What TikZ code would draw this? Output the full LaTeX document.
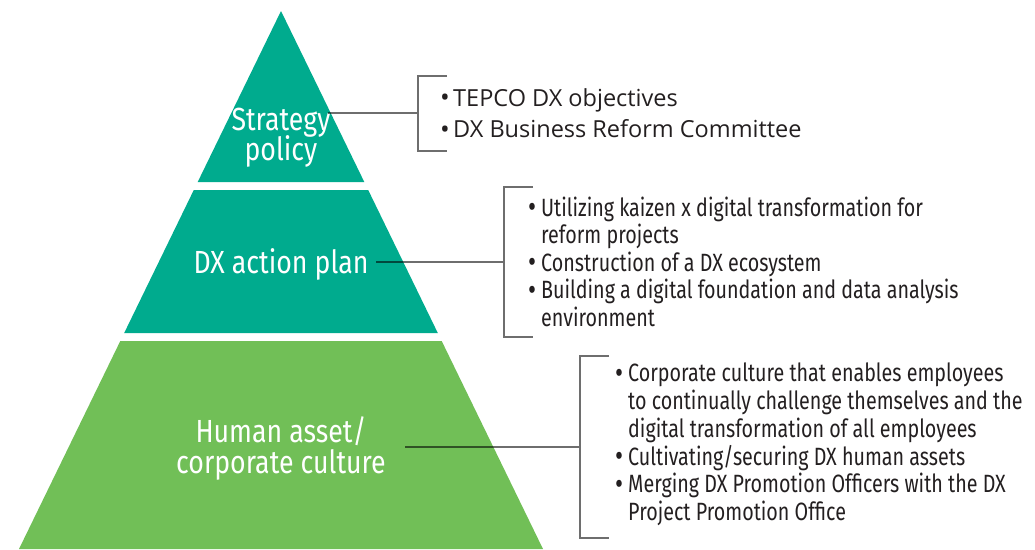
\documentclass[tikz,border=0pt]{standalone}
\usepackage{fontspec}
\setmainfont{Fira Sans}
\newfontfamily\condfont[FakeStretch=0.788]{Fira Sans}
\newfontfamily\labelfont[FakeStretch=0.835]{Fira Sans}
\newfontfamily\widefont{Open Sans}
\definecolor{teal1}{HTML}{00AB8E}
\definecolor{green1}{HTML}{71BF57}
\definecolor{linegray}{HTML}{6E6E6E}
\definecolor{txtcol}{HTML}{231F20}
\tikzset{
  layerlabel/.style={anchor=base, inner sep=0pt, text=white, font=\labelfont\fontsize{32}{32}\selectfont},
  itemtxt/.style={anchor=base west, inner sep=0pt, text=txtcol, font=\condfont\fontsize{25}{25}\selectfont},
  toptxt/.style={anchor=base west, inner sep=0pt, text=txtcol, font=\widefont\fontsize{23.5}{23.5}\selectfont},
  connector/.style={draw=linegray, line width=1.4pt},
}
\newcommand{\bul}{\makebox[13pt][l]{\smash{\raisebox{-0.15ex}{\scalebox{1.25}{\textbullet}}}}}
\newcommand{\bulw}{\makebox[13pt][l]{\smash{\raisebox{-0.05ex}{\scalebox{1.1}{\textbullet}}}}}
\begin{document}
\begin{tikzpicture}[x=1pt,y=-1pt]
\useasboundingbox (0,0) rectangle (1035,549);
% pyramid layers
\fill[teal1] (281,11) -- (364.3,182) -- (197.7,182) -- cycle;
\fill[teal1] (193.8,190) -- (368.2,190) -- (437.8,333) -- (124.2,333) -- cycle;
\fill[green1] (120.3,341) -- (441.7,341) -- (543,549) -- (19,549) -- cycle;
% layer labels
\node[layerlabel] (l1a) at (281,130) {Strategy};
\node[layerlabel] (l1b) at (281,160) {policy};
\node[layerlabel] (l2) at (281,273) {DX action plan};
\node[layerlabel] (l3a) at (281,442) {Human asset/};
\node[layerlabel] (l3b) at (281,473) {corporate culture};
% connector coordinates
\coordinate (c1s) at (328,113);
\coordinate (c1e) at (418,113);
\coordinate (c2s) at (376,262);
\coordinate (c2e) at (504,262);
\coordinate (c3s) at (405,447);
\coordinate (c3e) at (580,447);
\begin{scope}[blend mode=multiply]
\draw[connector] (c1s) -- (c1e);
\draw[connector] (c2s) -- (c2e);
\draw[connector] (c3s) -- (c3e);
\end{scope}
% brackets
\draw[connector] (447,76) -- (418,76) -- (418,151) -- (447,151);
\draw[connector] (533,187) -- (504,187) -- (504,337) -- (533,337);
\draw[connector] (609,356) -- (580,356) -- (580,538) -- (609,538);
% top texts
\node[toptxt] (t1) at (440,106) {\bulw TEPCO DX objectives};
\node[toptxt] (t2) at (440,137.7) {\bulw DX Business Reform Committee};
% middle texts
\node[itemtxt] (m1) at (528,216) {\bul Utilizing kaizen x digital transformation for};
\node[itemtxt] (m2) at (541,243.5) {reform projects};
\node[itemtxt] (m3) at (528,271) {\bul Construction of a DX ecosystem};
\node[itemtxt] (m4) at (528,298.5) {\bul Building a digital foundation and data analysis};
\node[itemtxt] (m5) at (541,326) {environment};
% bottom texts
\node[itemtxt] (b1) at (615,381.7) {\bul Corporate culture that enables employees};
\node[itemtxt] (b2) at (628,409.5) {to continually challenge themselves and the};
\node[itemtxt] (b3) at (628,437) {digital transformation of all employees};
\node[itemtxt] (b4) at (615,465) {\bul Cultivating/securing DX human assets};
\node[itemtxt] (b5) at (615,492.7) {\bul Merging DX Promotion Officers with the DX};
\node[itemtxt] (b6) at (628,520.5) {Project Promotion Office};
\end{tikzpicture}
\end{document}
